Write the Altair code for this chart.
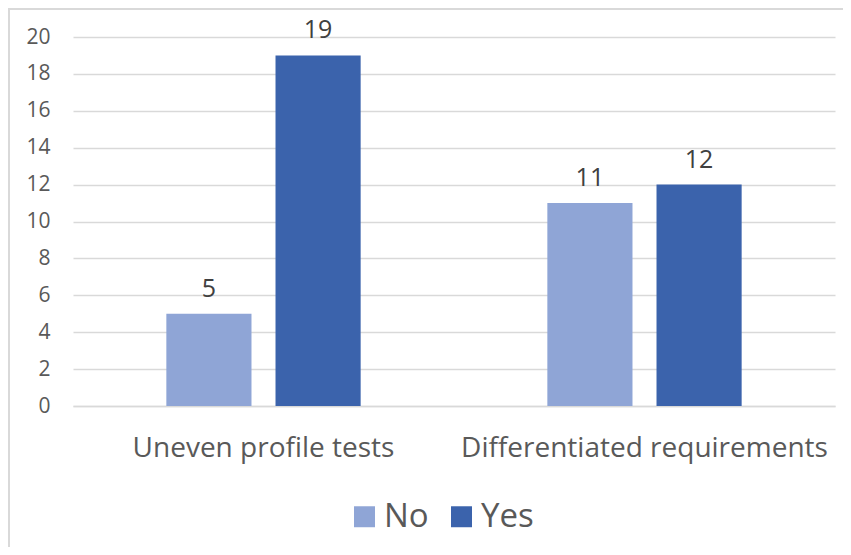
import altair as alt
import pandas as pd

categories = ["Uneven profile tests", "Uneven profile tests", "Differentiated requirements", "Differentiated requirements"]
answers = ["No", "Yes", "No", "Yes"]
counts = [5, 19, 11, 12]

df = pd.DataFrame({"cat": categories, "ans": answers, "n": counts})
cat_order = ["Uneven profile tests", "Differentiated requirements"]
FONT = "Open Sans"
GREY = "#595959"

x = alt.X("cat:N", sort=cat_order, title=None,
          scale=alt.Scale(paddingInner=0.49, paddingOuter=0.245),
          axis=alt.Axis(labelAngle=0, labelFontSize=28, labelColor=GREY, labelFont=FONT,
                        labelLimit=1000, labelPadding=28, ticks=False,
                        domainColor="#D9D9D9", domainWidth=1.5))
xo = alt.XOffset("ans:N", scale=alt.Scale(paddingInner=0.22, paddingOuter=0))
y = alt.Y("n:Q", title=None,
          scale=alt.Scale(domain=[0, 20]),
          axis=alt.Axis(values=list(range(0, 21, 2)), labelFontSize=21, labelColor=GREY, labelFont=FONT,
                        labelPadding=23, ticks=False, domain=False, gridColor="#D9D9D9", gridWidth=1.5))

bars = alt.Chart(df).mark_bar().encode(
    x=x, xOffset=xo, y=y,
    color=alt.Color("ans:N", title=None,
                    scale=alt.Scale(domain=["No", "Yes"], range=["#8FA5D6", "#3B63AC"]),
                    legend=alt.Legend(orient="none", legendX=275, legendY=463, direction="horizontal",
                                      symbolType="square", symbolSize=440, symbolStrokeWidth=0,
                                      labelFontSize=33, labelColor=GREY, labelFont=FONT,
                                      labelOffset=3, columnPadding=16)),
)

labels = alt.Chart(df).mark_text(baseline="bottom", dy=-12, fontSize=25, color="#404040", font=FONT).encode(
    x=x, xOffset=xo, y=y, text="n:Q"
)

border = alt.Chart(df).mark_rect(fill=None, stroke="#D9D9D9", strokeWidth=2, clip=False).encode(
    x=alt.value(-64), x2=alt.value(900), y=alt.value(-28), y2=alt.value(700)
)

chart = alt.layer(border, bars, labels).properties(
    width=762, height=369,
    autosize=alt.AutoSizeParams(type="none"),
    padding={"left": 65, "top": 29, "right": 8, "bottom": 141},
).configure_view(stroke=None)

chart.save("out.html", embed_options={"renderer": "svg", "actions": False})
